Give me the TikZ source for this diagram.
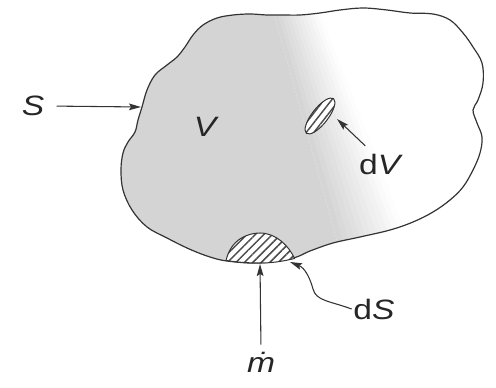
\documentclass[tikz,border=0pt]{standalone}
\usepackage{fontspec}
\setmainfont{Liberation Sans}[FakeStretch=1.2]
\usetikzlibrary{arrows.meta,patterns.meta}
\def\cvpath{plot [smooth cycle, tension=0.6] coordinates {(142,107) (147,90) (155,75) (167,65) (177,57) (185,47) (193,35) (203,25) (217,18) (233,15) (250,14) (267,15) (283,15) (300,15) (320,13) (340,10) (363,8) (387,10) (410,13) (433,14) (450,20) (463,33) (473,47) (482,63) (483,83) (478,100) (473,110) (477,123) (482,137) (480,153) (473,170) (463,187) (450,200) (433,212) (413,222) (390,230) (360,237) (333,243) (310,251) (293,258) (260,263) (227,261) (207,256) (187,248) (167,238) (147,227) (132,210) (123,190) (121,170) (123,153) (128,142) (135,132) (138,120)}}
\tikzset{every picture/.style={line width=0.75pt}}
\tikzset{
lbl/.style={inner sep=1pt, text=black!85, font=\fontsize{21}{24}\selectfont},
arr/.style={draw=black!80, line width=0.8pt, -{Stealth[length=9pt,width=5pt,inset=1.5pt]}},
hatch/.style={preaction={fill=white}, pattern={Lines[angle=#1,distance=4.5pt,line width=1.1pt]}, pattern color=black!70, draw=black!80}
}

\begin{document}
\begin{tikzpicture}[x=0.75pt,y=0.75pt,yscale=-1]
\useasboundingbox (0,0) rectangle (496,388);

%Shape: Control volume, grey fading to white
\begin{scope}
\clip \cvpath;
\fill [black!17] (100,0) -- (270,0) -- (345,270) -- (100,270) -- cycle;
\foreach \i in {0,...,11}{
  \pgfmathsetmacro\fa{\i/12}
  \pgfmathsetmacro\fb{(\i+1.1)/12}
  \pgfmathsetmacro\sh{17*(1-(\i+0.5)/12)}
  \fill [black!\sh] (270+45*\fa,0) -- (270+45*\fb,0) -- (345+75*\fb,270) -- (345+75*\fa,270) -- cycle;
}
\end{scope}
\draw [draw=black!80, line width=0.9pt] \cvpath;

%Shape: Surface element
\draw [hatch=45] (226,260.5) .. controls (231,239) and (248,233) .. (260,233) .. controls (276,233) and (289,246) .. (294.5,258.5) .. controls (282,261.5) and (272,263) .. (260,263) .. controls (246,263) and (236,262) .. cycle ;

%Shape: Volume element
\draw [hatch=52] (320,116) ellipse [x radius=22, y radius=8, rotate=-52] ;

% Arrow ends
\coordinate (stip) at (141,107);
\coordinate (dvtip) at (337,119);
\coordinate (dstip) at (290,262);
\coordinate (mtip) at (260,264);

% Text Node
\node [lbl] (s) at (33,106) {\itshape S};
% Text Node
\node [lbl] (v) at (205,127) {\itshape V};
% Text Node
\node [lbl] (dv) at (381,164) {d\textit{V}};
% Text Node
\node [lbl] (ds) at (374,309) {d\textit{S}};
% Text Node
\node [lbl] (mdot) at (261,362) {\itshape\.{m}};

%Straight Lines
\draw [arr, shorten <=8pt] (s.east) -- (stip) ;
\draw [arr] (dv.north west) ++(8,-6) -- (dvtip) ;
\draw [arr, shorten <=4pt] (mdot.north) -- (mtip) ;
%Curve Lines
\draw [arr] (ds.west) .. controls (330,301) and (316,301) .. (313,289) .. controls (310,278) and (305,268) .. (dstip) ;

\end{tikzpicture}
\end{document}
